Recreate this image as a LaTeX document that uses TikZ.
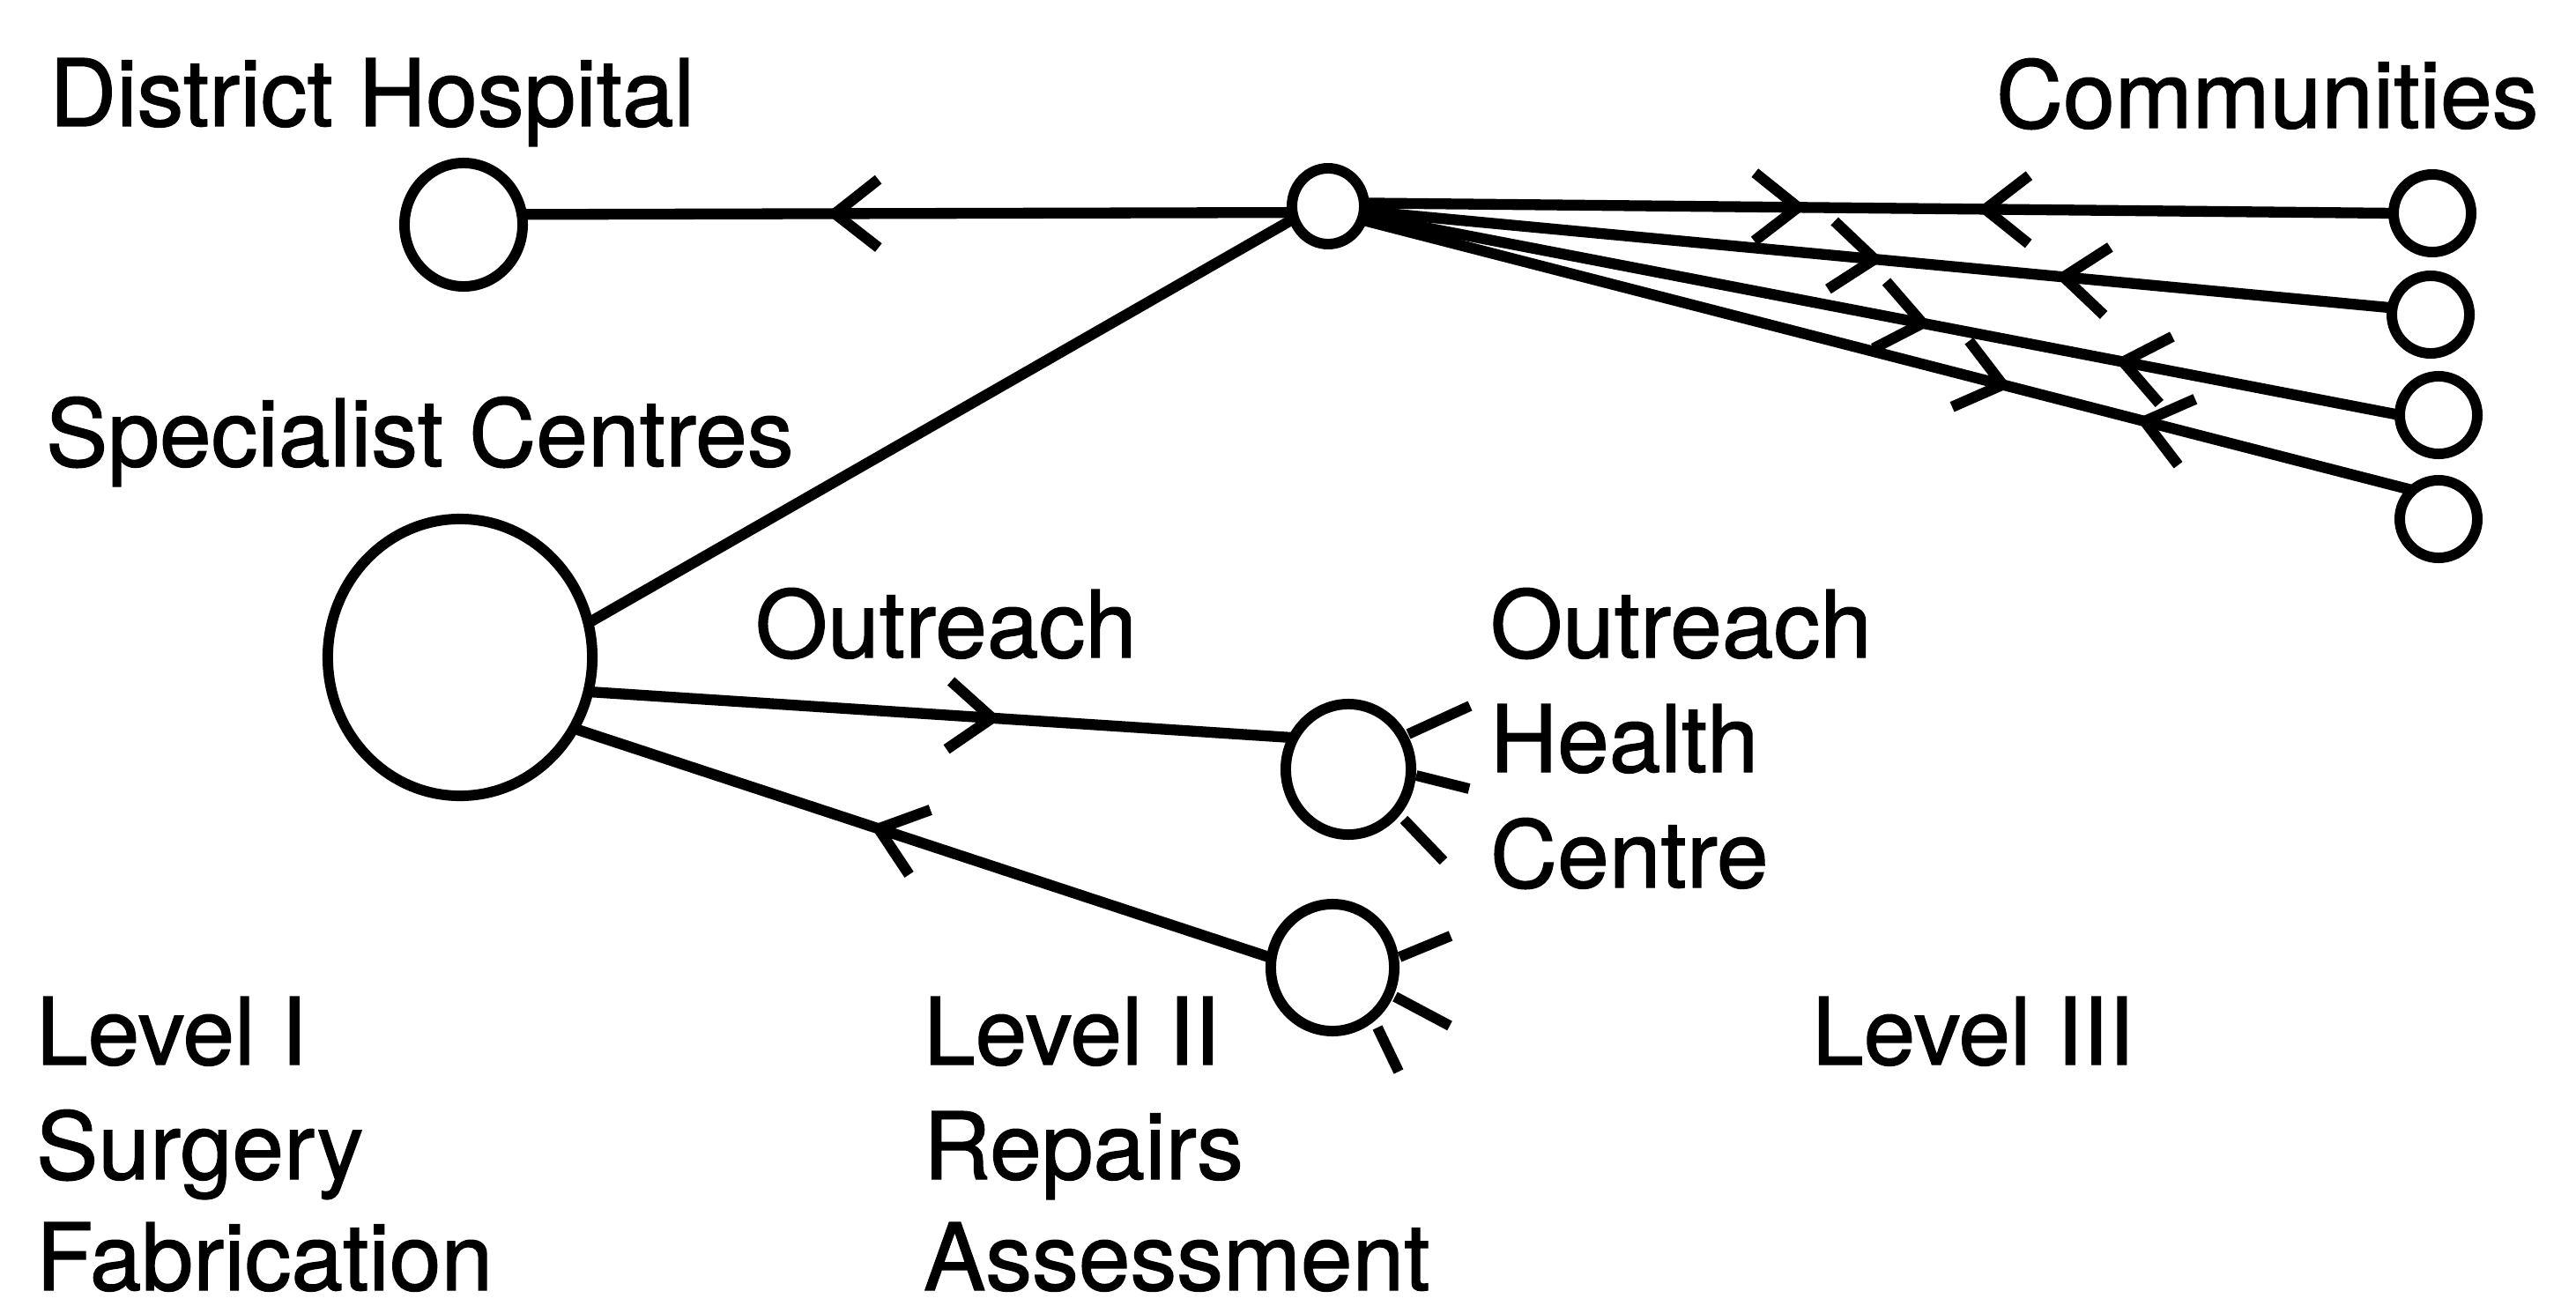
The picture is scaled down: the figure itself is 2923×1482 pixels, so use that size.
\documentclass[tikz,border=0pt]{standalone}
\usepackage{fontspec}
\setmainfont[FakeBold=1.2]{TeX Gyre Heros}
\usetikzlibrary{shapes.geometric,decorations.markings,arrows.meta}
\begin{document}
\begin{tikzpicture}[x=0.01cm,y=-0.01cm,
  ring/.style={draw,ellipse,line width=3.4pt,inner sep=0pt,outer sep=0pt},
  link/.style={line width=3.5pt},
  spoke/.style={line width=3.4pt},
  lbl/.style={anchor=base west,inner sep=0pt,outer sep=0pt,font=\fontsize{30pt}{36pt}\selectfont},
  barb/.tip={Straight Barb[length=14pt,width=22pt]},
  arr/.style={postaction={decorate},decoration={markings,mark=at position #1 with {\arrow{barb}}}},
  two/.style 2 args={postaction={decorate},decoration={markings,
      mark=at position #1 with {\arrow{barb}},
      mark=at position #2 with {\arrowreversed{barb}}}}
]
\useasboundingbox (0,0) rectangle (2923,1482);

% circles
\node[ring,minimum width=1.34cm,minimum height=1.40cm] (DH) at (526,255) {};
\node[ring,minimum width=0.82cm,minimum height=0.86cm] (hub) at (1507,234) {};
\node[ring,minimum width=3.00cm,minimum height=3.14cm] (SC) at (522,746) {};
\node[ring,minimum width=1.42cm,minimum height=1.48cm] (HC) at (1530,873) {};
\node[ring,minimum width=1.40cm,minimum height=1.44cm] (LC) at (1512,1098) {};
\node[ring,minimum width=0.88cm,minimum height=0.88cm] (C1) at (2760,242) {};
\node[ring,minimum width=0.88cm,minimum height=0.88cm] (C2) at (2758,357) {};
\node[ring,minimum width=0.88cm,minimum height=0.88cm] (C3) at (2767,471) {};
\node[ring,minimum width=0.88cm,minimum height=0.88cm] (C4) at (2767,589) {};

% spokes
\draw[spoke] ([shift={(68,-40)}]HC.center) -- ([shift={(138,-72)}]HC.center);
\draw[spoke] ([shift={(77,7)}]HC.center) -- ([shift={(137,22)}]HC.center);
\draw[spoke] ([shift={(63,57)}]HC.center) -- ([shift={(108,104)}]HC.center);
\draw[spoke] ([shift={(76,-12)}]LC.center) -- ([shift={(134,-36)}]LC.center);
\draw[spoke] ([shift={(71,33)}]LC.center) -- ([shift={(133,66)}]LC.center);
\draw[spoke] ([shift={(51,68)}]LC.center) -- ([shift={(75,118)}]LC.center);

% connectors
\draw[link,arr={0.605}] (hub.190) -- (DH.10);
\draw[link] (hub.200) -- (SC.15);
\draw[link,arr={0.585}] (SC.-15) -- (HC.150);
\draw[link,arr={0.575}] (LC.171) -- (SC.-32);
\draw[link,two={0.43}{0.595}] (hub.5) -- (C1.180);
\draw[link,two={0.505}{0.672}] (hub.-8) -- (C2.170);
\draw[link,two={0.548}{0.725}] (hub.-15) -- (C3.180);
\draw[link,two={0.618}{0.737}] (hub.-22) -- (C4.132);

% labels
\node[lbl] (tDH) at (56,143) {District Hospital};
\node[lbl] (tCom) at (2265,145) {Communities};
\node[lbl] (tSC) at (52,529) {Specialist Centres};
\node[lbl] (tOut) at (857,746) {Outreach};
\node[lbl] (tOHCa) at (1691,746) {Outreach};
\node[lbl] (tOHCb) at (1691,876) {Health};
\node[lbl] (tOHCc) at (1691,1007) {Centre};
\node[lbl] (tLIa) at (41,1208) {Level I};
\node[lbl] (tLIb) at (41,1338) {Surgery};
\node[lbl,text depth=0pt] (tLIc) at (41,1464) {Fabrication};
\node[lbl] (tLIIa) at (1048,1208) {Level II};
\node[lbl] (tLIIb) at (1048,1338) {Repairs};
\node[lbl,text depth=0pt] (tLIIc) at (1048,1464) {Assessment};
\node[lbl] (tLIII) at (2056,1208) {Level III};
\end{tikzpicture}
\end{document}
